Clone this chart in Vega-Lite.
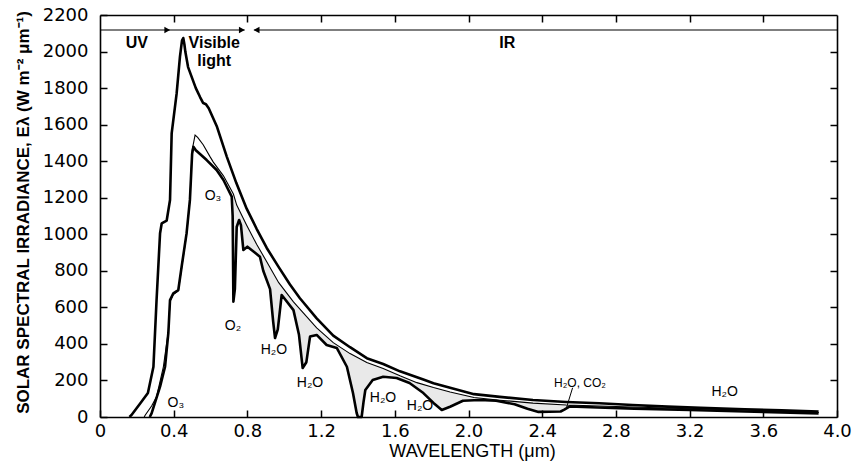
{
  "$schema": "https://vega.github.io/schema/vega-lite/v6.json",
  "autosize": {"type": "none"},
  "width": 737,
  "height": 402,
  "padding": {"left": 100, "top": 15, "right": 22, "bottom": 49},
  "background": "white",
  "config": {"view": {"stroke": null}, "font": "Liberation Sans"},
  "datasets": {
    "curves": [
      {"s":"top","wl":0.16,"e":0},{"s":"top","wl":0.17,"e":10},{"s":"top","wl":0.22,"e":77},{"s":"top","wl":0.26,"e":131},{"s":"top","wl":0.29,"e":275},{"s":"top","wl":0.307,"e":640},{"s":"top","wl":0.326,"e":1006},{"s":"top","wl":0.335,"e":1060},{"s":"top","wl":0.362,"e":1075},{"s":"top","wl":0.38,"e":1188},{"s":"top","wl":0.389,"e":1552},{"s":"top","wl":0.416,"e":1771},{"s":"top","wl":0.434,"e":1972},{"s":"top","wl":0.445,"e":2060},{"s":"top","wl":0.452,"e":2074},{"s":"top","wl":0.458,"e":2040},{"s":"top","wl":0.463,"e":2000},{"s":"top","wl":0.478,"e":1915},{"s":"top","wl":0.52,"e":1800},{"s":"top","wl":0.543,"e":1751},{"s":"top","wl":0.56,"e":1718},{"s":"top","wl":0.575,"e":1712},{"s":"top","wl":0.59,"e":1690},{"s":"top","wl":0.635,"e":1588},{"s":"top","wl":0.688,"e":1425},{"s":"top","wl":0.74,"e":1280},{"s":"top","wl":0.796,"e":1140},{"s":"top","wl":0.85,"e":1030},{"s":"top","wl":0.905,"e":925},{"s":"top","wl":0.97,"e":820},{"s":"top","wl":1.031,"e":725},{"s":"top","wl":1.085,"e":650},{"s":"top","wl":1.176,"e":540},{"s":"top","wl":1.266,"e":445},{"s":"top","wl":1.357,"e":382},{"s":"top","wl":1.448,"e":322},{"s":"top","wl":1.537,"e":290},{"s":"top","wl":1.628,"e":250},{"s":"top","wl":1.755,"e":205},{"s":"top","wl":1.81,"e":185},{"s":"top","wl":1.9,"e":160},{"s":"top","wl":2.03,"e":125},{"s":"top","wl":2.17,"e":110},{"s":"top","wl":2.35,"e":93},{"s":"top","wl":2.53,"e":82},{"s":"top","wl":2.71,"e":75},{"s":"top","wl":2.89,"e":66},{"s":"top","wl":3.08,"e":57},{"s":"top","wl":3.26,"e":50},{"s":"top","wl":3.5,"e":42},{"s":"top","wl":3.7,"e":36},{"s":"top","wl":3.9,"e":30},
      {"s":"thin","wl":0.24,"e":0},{"s":"thin","wl":0.245,"e":10},{"s":"thin","wl":0.28,"e":60},{"s":"thin","wl":0.307,"e":111},{"s":"thin","wl":0.344,"e":275},{"s":"thin","wl":0.371,"e":470},{"s":"thin","wl":0.38,"e":630},{"s":"thin","wl":0.398,"e":670},{"s":"thin","wl":0.425,"e":690},{"s":"thin","wl":0.443,"e":815},{"s":"thin","wl":0.47,"e":1000},{"s":"thin","wl":0.488,"e":1185},{"s":"thin","wl":0.50,"e":1460},{"s":"thin","wl":0.516,"e":1543},{"s":"thin","wl":0.53,"e":1530},{"s":"thin","wl":0.56,"e":1490},{"s":"thin","wl":0.597,"e":1425},{"s":"thin","wl":0.615,"e":1395},{"s":"thin","wl":0.67,"e":1320},{"s":"thin","wl":0.724,"e":1220},{"s":"thin","wl":0.742,"e":1160},{"s":"thin","wl":0.796,"e":1050},{"s":"thin","wl":0.85,"e":945},{"s":"thin","wl":0.905,"e":850},{"s":"thin","wl":0.97,"e":735},{"s":"thin","wl":1.05,"e":630},{"s":"thin","wl":1.176,"e":488},{"s":"thin","wl":1.266,"e":407},{"s":"thin","wl":1.357,"e":347},{"s":"thin","wl":1.448,"e":298},{"s":"thin","wl":1.537,"e":266},{"s":"thin","wl":1.628,"e":226},{"s":"thin","wl":1.72,"e":188},{"s":"thin","wl":1.81,"e":161},{"s":"thin","wl":1.9,"e":137},{"s":"thin","wl":2.03,"e":107},{"s":"thin","wl":2.17,"e":92},{"s":"thin","wl":2.35,"e":76},{"s":"thin","wl":2.53,"e":66},{"s":"thin","wl":2.89,"e":55},{"s":"thin","wl":3.2,"e":45},{"s":"thin","wl":3.5,"e":38},{"s":"thin","wl":3.9,"e":25},
      {"s":"bottom","wl":0.27,"e":0},{"s":"bottom","wl":0.28,"e":20},{"s":"bottom","wl":0.326,"e":166},{"s":"bottom","wl":0.353,"e":275},{"s":"bottom","wl":0.371,"e":460},{"s":"bottom","wl":0.38,"e":640},{"s":"bottom","wl":0.398,"e":677},{"s":"bottom","wl":0.425,"e":695},{"s":"bottom","wl":0.443,"e":822},{"s":"bottom","wl":0.47,"e":1006},{"s":"bottom","wl":0.488,"e":1188},{"s":"bottom","wl":0.50,"e":1440},{"s":"bottom","wl":0.507,"e":1479},{"s":"bottom","wl":0.52,"e":1460},{"s":"bottom","wl":0.579,"e":1406},{"s":"bottom","wl":0.633,"e":1352},{"s":"bottom","wl":0.67,"e":1297},{"s":"bottom","wl":0.715,"e":1206},{"s":"bottom","wl":0.72,"e":1100},{"s":"bottom","wl":0.724,"e":631},{"s":"bottom","wl":0.732,"e":700},{"s":"bottom","wl":0.742,"e":1040},{"s":"bottom","wl":0.755,"e":1078},{"s":"bottom","wl":0.765,"e":1050},{"s":"bottom","wl":0.778,"e":914},{"s":"bottom","wl":0.80,"e":932},{"s":"bottom","wl":0.84,"e":900},{"s":"bottom","wl":0.868,"e":877},{"s":"bottom","wl":0.886,"e":800},{"s":"bottom","wl":0.923,"e":700},{"s":"bottom","wl":0.94,"e":520},{"s":"bottom","wl":0.95,"e":432},{"s":"bottom","wl":0.965,"e":480},{"s":"bottom","wl":0.986,"e":668},{"s":"bottom","wl":1.0,"e":650},{"s":"bottom","wl":1.05,"e":585},{"s":"bottom","wl":1.08,"e":450},{"s":"bottom","wl":1.10,"e":268},{"s":"bottom","wl":1.12,"e":300},{"s":"bottom","wl":1.14,"e":440},{"s":"bottom","wl":1.176,"e":449},{"s":"bottom","wl":1.23,"e":394},{"s":"bottom","wl":1.285,"e":378},{"s":"bottom","wl":1.34,"e":275},{"s":"bottom","wl":1.373,"e":131},{"s":"bottom","wl":1.393,"e":22},{"s":"bottom","wl":1.40,"e":0},{"s":"bottom","wl":1.42,"e":0},{"s":"bottom","wl":1.43,"e":80},{"s":"bottom","wl":1.44,"e":148},{"s":"bottom","wl":1.48,"e":202},{"s":"bottom","wl":1.537,"e":220},{"s":"bottom","wl":1.61,"e":213},{"s":"bottom","wl":1.68,"e":186},{"s":"bottom","wl":1.755,"e":131},{"s":"bottom","wl":1.81,"e":77},{"s":"bottom","wl":1.855,"e":38},{"s":"bottom","wl":1.90,"e":56},{"s":"bottom","wl":1.97,"e":89},{"s":"bottom","wl":2.06,"e":93},{"s":"bottom","wl":2.15,"e":89},{"s":"bottom","wl":2.25,"e":70},{"s":"bottom","wl":2.32,"e":45},{"s":"bottom","wl":2.38,"e":28},{"s":"bottom","wl":2.5,"e":30},{"s":"bottom","wl":2.52,"e":40},{"s":"bottom","wl":2.55,"e":58},{"s":"bottom","wl":2.7,"e":52},{"s":"bottom","wl":2.9,"e":46},{"s":"bottom","wl":3.2,"e":38},{"s":"bottom","wl":3.5,"e":30},{"s":"bottom","wl":3.9,"e":20}
    ],
    "bands": [
      {"a":0,"b":0.38,"y":2118},{"a":0.38,"b":0.785,"y":2118},{"a":0.835,"b":4.0,"y":2118}
    ],
    "arrows": [
      {"wl":0.365,"y":2118,"shape":"triangle-right"},{"wl":0.77,"y":2118,"shape":"triangle-right"},{"wl":0.85,"y":2118,"shape":"triangle-left"}
    ],
    "bandLabels": [
      {"wl":0.2,"e":2047,"t":"UV"},{"wl":0.62,"e":2047,"t":"Visible"},{"wl":0.62,"e":1950,"t":"light"},{"wl":2.21,"e":2047,"t":"IR"}
    ],
    "gasLabels": [
      {"wl":0.613,"e":1210,"t":"O₃"},{"wl":0.722,"e":500,"t":"O₂"},{"wl":0.944,"e":367,"t":"H₂O"},{"wl":1.14,"e":186,"t":"H₂O"},{"wl":1.536,"e":104,"t":"H₂O"},{"wl":1.737,"e":60,"t":"H₂O"},{"wl":3.39,"e":137,"t":"H₂O"},{"wl":0.412,"e":77,"t":"O₃"}
    ],
    "smallLabels": [
      {"wl":2.605,"e":186,"t":"H₂O, CO₂"}
    ],
    "leaders": [
      {"a":2.565,"b":2.53,"y1":160,"y2":45}
    ]
  },
  "resolve": {"axis": {"x": "independent", "y": "independent"}},
  "layer": [
    {
      "data": {"name": "curves"},
      "transform": [{"filter": "datum.s === 'thin' && datum.wl >= 0.7"}],
      "mark": {"type": "area", "color": "#e9e9e9"},
      "encoding": {
        "x": {"field": "wl", "type": "quantitative", "scale": {"domain": [0, 4], "nice": false},
          "axis": {"orient": "bottom", "values": [0,0.4,0.8,1.2,1.6,2.0,2.4,2.8,3.2,3.6,4.0], "labelExpr": "datum.value == 0 ? '0' : format(datum.value, '.1f')",
            "tickSize": -7, "tickColor": "black", "tickWidth": 1.5, "domainColor": "black", "domainWidth": 1.6, "labelPadding": 12, "labelFontSize": 18, "labelColor": "black", "labelFont": "DejaVu Sans", "labelFlush": false,
            "title": "WAVELENGTH (μm)", "titleFontSize": 18, "titleFontWeight": "normal", "titleColor": "black", "titleFont": "Liberation Sans", "titleX": 372, "titleY": 34, "titleBaseline": "middle", "titleAlign": "center", "grid": false, "zindex": 1}},
        "y": {"field": "e", "type": "quantitative", "scale": {"domain": [0, 2200], "nice": false},
          "axis": {"orient": "left", "values": [0,200,400,600,800,1000,1200,1400,1600,1800,2000,2200], "format": "d",
            "tickSize": -7, "tickColor": "black", "tickWidth": 1.5, "domainColor": "black", "domainWidth": 1.6, "labelPadding": 19, "labelFontSize": 18, "labelColor": "black", "labelFont": "DejaVu Sans", "labelFlush": false,
            "title": "SOLAR SPECTRAL IRRADIANCE, Eλ (W m⁻² μm⁻¹)", "titleFontSize": 17, "titleFontWeight": "bold", "titleColor": "black", "titleFont": "Liberation Sans", "titleX": -77, "titleY": 197, "titleAngle": -90, "titleBaseline": "middle", "titleAlign": "center", "grid": false, "zindex": 1}}
      }
    },
    {
      "data": {"name": "curves"},
      "transform": [{"filter": "datum.s === 'bottom' && datum.wl >= 0.7"}],
      "mark": {"type": "area", "color": "white"},
      "encoding": {
        "x": {"field": "wl", "type": "quantitative", "axis": null},
        "y": {"field": "e", "type": "quantitative", "axis": null}
      }
    },
    {
      "data": {"name": "curves"},
      "transform": [{"filter": "datum.s === 'thin'"}],
      "mark": {"type": "line", "color": "black", "strokeWidth": 1.1},
      "encoding": {
        "x": {"field": "wl", "type": "quantitative", "axis": null},
        "y": {"field": "e", "type": "quantitative", "axis": null}
      }
    },
    {
      "data": {"name": "curves"},
      "transform": [{"filter": "datum.s === 'bottom'"}],
      "mark": {"type": "line", "color": "black", "strokeWidth": 2.6, "strokeJoin": "round"},
      "encoding": {
        "x": {"field": "wl", "type": "quantitative", "axis": null},
        "y": {"field": "e", "type": "quantitative", "axis": null}
      }
    },
    {
      "data": {"name": "curves"},
      "transform": [{"filter": "datum.s === 'top'"}],
      "mark": {"type": "line", "color": "black", "strokeWidth": 2.6, "strokeJoin": "round"},
      "encoding": {
        "x": {"field": "wl", "type": "quantitative",
          "axis": {"orient": "top", "values": [0.4,0.8,1.2,1.6,2.0,2.4,2.8,3.2,3.6], "labels": false, "title": null, "tickSize": -7, "tickColor": "black", "tickWidth": 1.5, "domainColor": "black", "domainWidth": 1.6, "grid": false, "zindex": 1}},
        "y": {"field": "e", "type": "quantitative",
          "axis": {"orient": "right", "values": [200,400,600,800,1000,1200,1400,1600,1800,2000], "labels": false, "title": null, "tickSize": -7, "tickColor": "black", "tickWidth": 1.5, "domainColor": "black", "domainWidth": 1.6, "grid": false, "zindex": 1}}
      }
    },
    {
      "data": {"name": "bands"},
      "mark": {"type": "rule", "color": "black", "strokeWidth": 1.2},
      "encoding": {
        "x": {"field": "a", "type": "quantitative", "axis": null},
        "x2": {"field": "b"},
        "y": {"field": "y", "type": "quantitative", "axis": null}
      }
    },
    {
      "data": {"name": "arrows"},
      "mark": {"type": "point", "filled": true, "color": "black", "size": 45, "opacity": 1},
      "encoding": {
        "x": {"field": "wl", "type": "quantitative", "axis": null},
        "y": {"field": "y", "type": "quantitative", "axis": null},
        "shape": {"field": "shape", "type": "nominal", "scale": null, "legend": null}
      }
    },
    {
      "data": {"name": "leaders"},
      "mark": {"type": "rule", "color": "black", "strokeWidth": 1},
      "encoding": {
        "x": {"field": "a", "type": "quantitative", "axis": null},
        "x2": {"field": "b"},
        "y": {"field": "y1", "type": "quantitative", "axis": null},
        "y2": {"field": "y2"}
      }
    },
    {
      "data": {"name": "bandLabels"},
      "mark": {"type": "text", "fontSize": 16, "fontWeight": "bold", "font": "Liberation Sans", "color": "black", "align": "center", "baseline": "middle"},
      "encoding": {
        "x": {"field": "wl", "type": "quantitative", "axis": null},
        "y": {"field": "e", "type": "quantitative", "axis": null},
        "text": {"field": "t"}
      }
    },
    {
      "data": {"name": "gasLabels"},
      "mark": {"type": "text", "fontSize": 14, "font": "Liberation Sans", "color": "black", "align": "center", "baseline": "middle"},
      "encoding": {
        "x": {"field": "wl", "type": "quantitative", "axis": null},
        "y": {"field": "e", "type": "quantitative", "axis": null},
        "text": {"field": "t"}
      }
    },
    {
      "data": {"name": "smallLabels"},
      "mark": {"type": "text", "fontSize": 12, "font": "Liberation Sans", "color": "black", "align": "center", "baseline": "middle"},
      "encoding": {
        "x": {"field": "wl", "type": "quantitative", "axis": null},
        "y": {"field": "e", "type": "quantitative", "axis": null},
        "text": {"field": "t"}
      }
    }
  ]
}
